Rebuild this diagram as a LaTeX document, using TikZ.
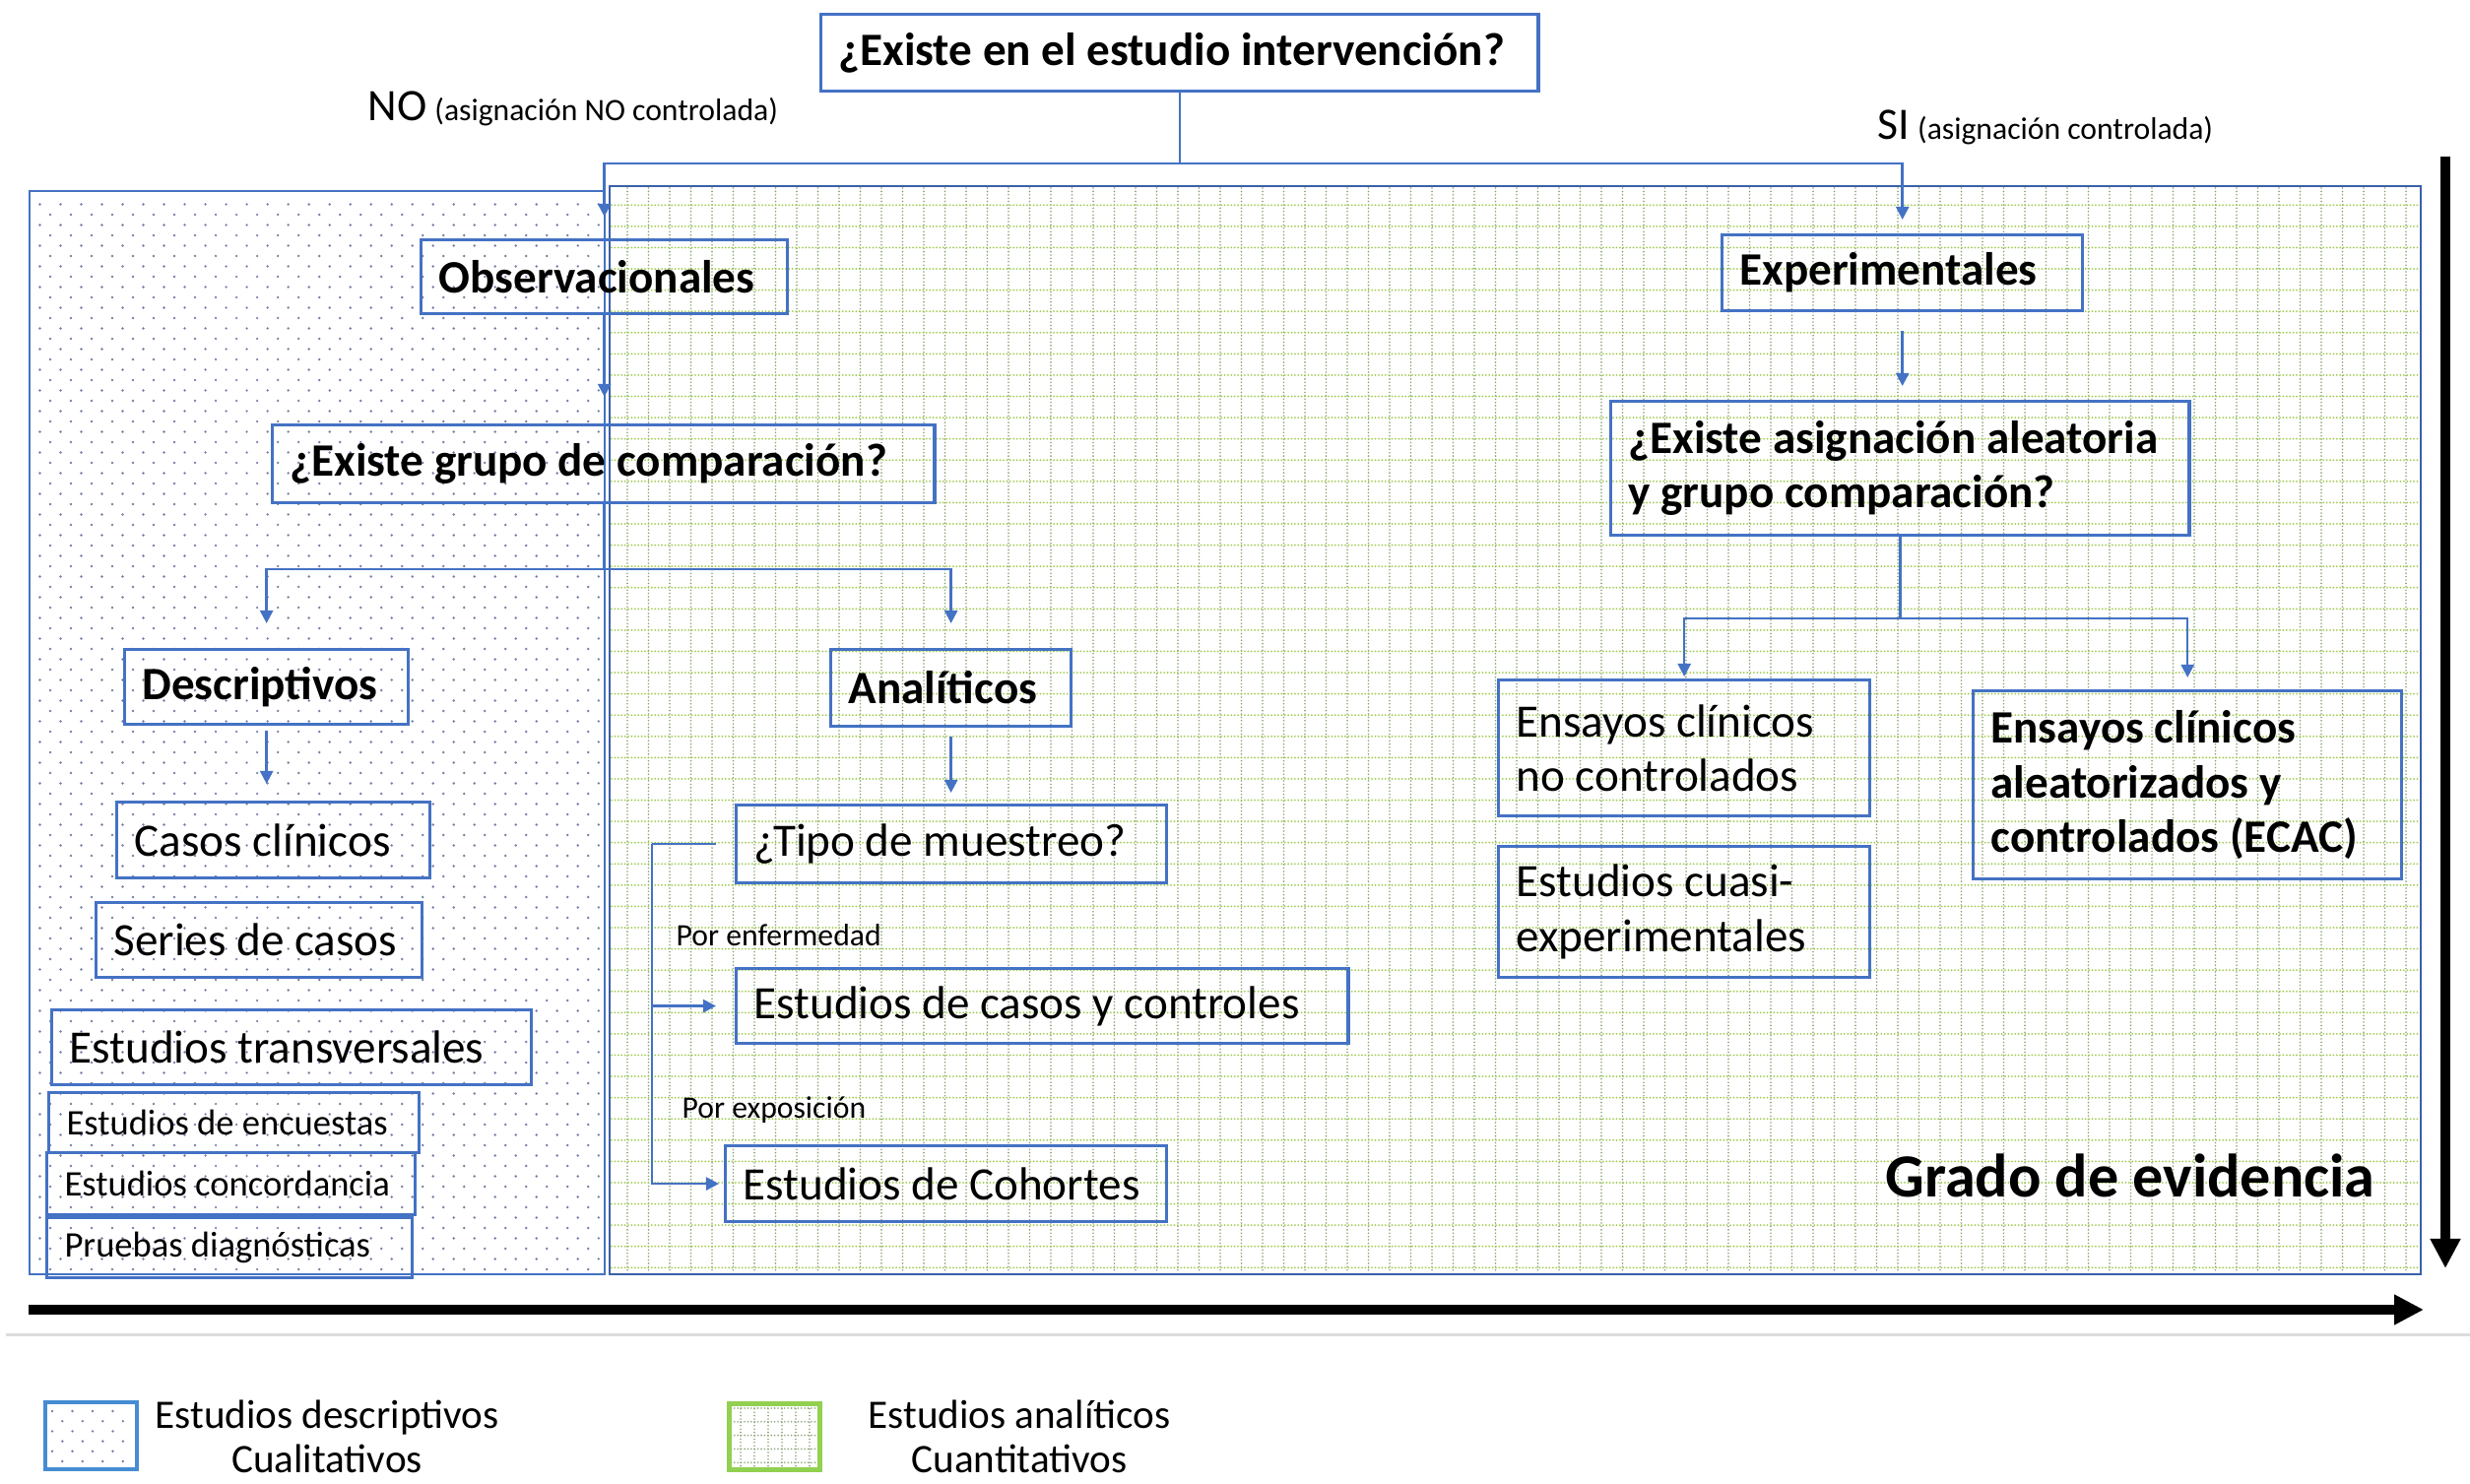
\documentclass[tikz,border=0pt]{standalone}
\usepackage{fontspec}
\setmainfont{Carlito}
\usetikzlibrary{arrows.meta,calc}
\definecolor{boxblue}{RGB}{68,114,196}
\definecolor{dotcol}{RGB}{115,130,165}
\definecolor{gridh}{RGB}{160,205,80}
\definecolor{gridv}{RGB}{140,165,120}
\definecolor{legblue}{RGB}{70,140,210}
\definecolor{leggreen}{RGB}{146,208,80}
\definecolor{sepgray}{RGB}{220,220,220}
\newcommand\fbig{\fontsize{13.4}{15.8}\selectfont}
\newcommand\fsmallbox{\fontsize{10.4}{12.5}\selectfont}
\newcommand\flab{\fontsize{9}{11}\selectfont}
\newcommand\fno{\fontsize{13}{15}\selectfont}
\newcommand\fleg{\fontsize{11.7}{12.8}\selectfont}
\newcommand\fgrado{\fontsize{17.7}{21}\selectfont}
\begin{document}
\begin{tikzpicture}[x=0.01cm,y=-0.01cm,
  box/.style={draw=boxblue, line width=0.9pt, anchor=north west, inner xsep=0.18cm, inner ysep=0pt, align=left, font=\fbig,
    execute at begin node={\spaceskip=0pt\xspaceskip=0pt\parindent=0pt\relax}},
  bbox/.style={box, font=\fbig\bfseries},
  sbox/.style={box, font=\fsmallbox},
  conn/.style={draw=boxblue, line width=0.7pt},
  arr/.style={conn, -{Triangle[width=0.13cm,length=0.13cm]}},
  bigarrow/.style={draw=black, line width=0.1cm, -{Triangle[width=0.29cm,length=0.3cm]}},
  dotrow/.style={draw=dotcol, line width=0.027cm, line cap=round, dash pattern=on 0pt off 0.21cm},
  gridhline/.style={draw=gridh, line width=0.02cm, line cap=round, dash pattern=on 0pt off 0.034cm},
  gridvline/.style={draw=gridv, line width=0.018cm, line cap=round, dash pattern=on 0pt off 0.034cm},
  lab/.style={inner sep=0pt, text=black},
  legtext/.style={lab, align=center, font=\fleg, execute at begin node={\spaceskip=0pt\xspaceskip=0pt\relax}}
]
\useasboundingbox (0,0) rectangle (2508,1507);
\fill[white] (0,0) rectangle (2508,1507);

% ---- left dotted region
\begin{scope}
\clip (30,194) rectangle (614,1294);
\foreach \i in {1,...,104} {
  \pgfmathsetmacro{\yy}{197+10.5*\i}
  \pgfmathsetmacro{\xs}{51-10.5*mod(\i,2)}
  \draw[dotrow] (\xs,\yy) -- (612,\yy);
}
\end{scope}
% ---- right green grid region
\begin{scope}
\clip (619,189) rectangle (2458,1294);
\foreach \k in {0,...,85} {
  \pgfmathsetmacro{\xx}{637+21.5*\k}
  \draw[gridvline] (\xx,191) -- (\xx,1293);
}
\foreach \k in {0,...,50} {
  \pgfmathsetmacro{\yy}{208.3+21.58*\k}
  \draw[gridhline] (621,\yy) -- (2457,\yy);
}
\end{scope}
\draw[boxblue, line width=0.7pt] (30,194) rectangle (614,1294);
\draw[boxblue!85!black, line width=0.7pt] (619,189) rectangle (2458,1294);

% ---- boxes
\node[bbox, text width=6.92cm, minimum height=0.78cm] (top) at (832,13) {\mbox{¿Existe en el estudio intervención?}};
\node[bbox, text width=3.36cm, minimum height=0.75cm] (obs) at (426,242) {\mbox{Observacionales}};
\node[bbox, text width=6.36cm, minimum height=0.79cm] (grupo) at (275,430) {\mbox{¿Existe grupo de comparación?}};
\node[bbox, text width=2.52cm, minimum height=0.76cm] (descr) at (125,658) {\mbox{Descriptivos}};
\node[box, text width=2.82cm, minimum height=0.77cm] (casos) at (117,813) {\mbox{Casos clínicos}};
\node[box, text width=2.95cm, minimum height=0.76cm] (series) at (96,915) {\mbox{Series de casos}};
\node[box, text width=4.51cm, minimum height=0.76cm] (transv) at (51,1024) {\mbox{Estudios transversales}};
\node[sbox, text width=3.40cm, minimum height=0.61cm] (encu) at (48,1108) {\mbox{Estudios de encuestas}};
\node[sbox, text width=3.38cm, minimum height=0.63cm] (conc) at (46,1169) {\mbox{Estudios concordancia}};
\node[sbox, text width=3.35cm, minimum height=0.61cm] (prue) at (46,1235) {\mbox{Pruebas diagnósticas}};
\node[bbox, text width=2.08cm, minimum height=0.78cm] (anal) at (842,658) {\mbox{Analíticos}};
\node[box, text width=4.01cm, minimum height=0.79cm] (tipo) at (746,816) {\mbox{¿Tipo de muestreo?}};
\node[box, text width=5.85cm, minimum height=0.76cm] (cyc) at (746,982) {\mbox{Estudios de casos y controles}};
\node[box, text width=4.12cm, minimum height=0.77cm] (coh) at (735,1162) {\mbox{Estudios de Cohortes}};
\node[bbox, text width=3.30cm, minimum height=0.77cm] (exp) at (1747,237) {\mbox{Experimentales}};
\node[bbox, text width=5.51cm, minimum height=1.36cm] (asig) at (1634,406) {\mbox{¿Existe asignación aleatoria}\\\mbox{y grupo comparación?}};
\node[box, text width=3.41cm, minimum height=1.38cm] (ensno) at (1520,689) {\mbox{Ensayos clínicos}\\\mbox{no controlados}};
\node[box, text width=3.41cm, minimum height=1.33cm] (cuasi) at (1520,858) {\mbox{Estudios cuasi-}\\\mbox{experimentales}};
\node[bbox, text width=3.99cm, minimum height=1.91cm] (ecac) at (2002,700) {\mbox{Ensayos clínicos}\\\mbox{aleatorizados y}\\\mbox{controlados (ECAC)}};

% ---- labels
\node[lab, anchor=base west] (nolab) at (373,123) {{\fno NO} {\flab (asignación NO controlada)}};
\node[lab, anchor=base west] (silab) at (1906,142) {{\fno SI} {\flab (asignación controlada)}};
\node[lab, anchor=west, font=\flab] (porenf) at (686,950) {Por enfermedad};
\node[lab, anchor=west, font=\flab] (porexp) at (692,1127) {Por exposición};
\node[lab, anchor=base west, font=\fgrado\bfseries] (grado) at (1914,1216) {Grado de evidencia};

% ---- connectors
\draw[conn] (top.south) -- ++(0,72) coordinate (jt);
\draw[arr, shorten >=0.22cm] (jt) -| (obs.north);
\draw[arr, shorten >=0.14cm] (jt) -| (exp.north);
\draw[arr, shorten >=0.27cm] (obs.south) -- (obs.south |- grupo.north);
\draw[conn] (grupo.south) -- ++(0,66) coordinate (jg);
\draw[arr, shorten >=0.25cm] (jg) -| (descr.north);
\draw[arr, shorten >=0.25cm] (jg) -| (anal.north);
\draw[arr, shorten <=0.05cm, shorten >=0.17cm] (descr.south) -- (descr.south |- casos.north);
\draw[arr, shorten <=0.09cm, shorten >=0.11cm] (anal.south) -- (anal.south |- tipo.north);
\coordinate (jb) at ($(tipo.west)+(-84,0)$);
\draw[conn, shorten <=0.19cm] (tipo.west) -- (jb);
\draw[arr, shorten >=0.05cm] (jb) |- (coh.west);
\draw[arr, shorten >=0.19cm] (jb |- cyc.west) -- (cyc.west);
\draw[arr, shorten <=0.19cm, shorten >=0.14cm] (exp.south) -- (exp.south |- asig.north);
\draw[conn] (asig.south) -- ++(0,83) coordinate (ja);
\draw[arr, shorten >=0.02cm] (ja) -| (ensno.north);
\draw[arr, shorten >=0.12cm] (ja) -| (ecac.north);

% ---- axes arrows
\coordinate (vtop) at (2483,159);
\coordinate (vbot) at (2483,1288);
\draw[bigarrow] (vtop) -- (vbot);
\coordinate (hleft) at (29,1330);
\coordinate (hright) at (2461,1330);
\draw[bigarrow] (hleft) -- (hright);

% ---- separator
\draw[sepgray, line width=0.03cm] (6,1356) -- (2508,1356);

% ---- legend
\begin{scope}
\clip (44,1422) rectangle (137,1490);
\foreach \i in {0,...,5} {
  \pgfmathsetmacro{\yy}{1433+10.2*\i}
  \pgfmathsetmacro{\xs}{53+10.3*mod(\i,2)}
  \draw[dotrow, dash pattern=on 0pt off 0.205cm] (\xs,\yy) -- (134,\yy);
}
\end{scope}
\node[draw=legblue, line width=1.1pt, minimum width=0.93cm, minimum height=0.68cm, anchor=north west, inner sep=0pt] (leg1) at (44,1422) {};
\begin{scope}
\clip (738,1423) rectangle (830,1490);
\foreach \k in {0,...,5} {
  \pgfmathsetmacro{\xx}{752+14*\k}
  \draw[gridvline] (\xx,1424) -- (\xx,1489);
}
\foreach \k in {0,...,4} {
  \pgfmathsetmacro{\yy}{1430+13.8*\k}
  \draw[gridvline] (739,\yy) -- (829,\yy);
}
\end{scope}
\node[draw=leggreen, line width=1.4pt, minimum width=0.92cm, minimum height=0.67cm, anchor=north west, inner sep=0pt] (leg2) at (738,1423) {};
\node[legtext] (leg1t) at (332,1459) {Estudios descriptivos\\Cualitativos};
\node[legtext] (leg2t) at (1035,1459) {Estudios analíticos\\Cuantitativos};
\end{tikzpicture}
\end{document}
